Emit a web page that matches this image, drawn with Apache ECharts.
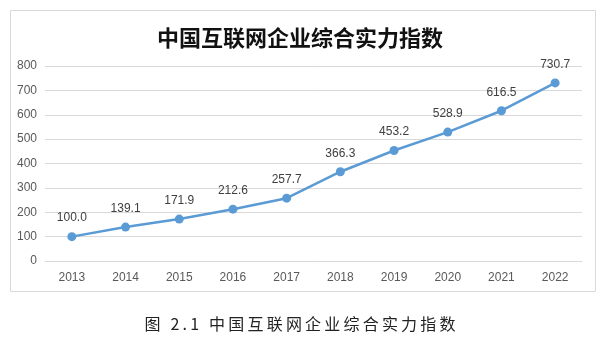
<!DOCTYPE html>
<html><head><meta charset="utf-8">
<script src="https://cdn.jsdelivr.net/npm/echarts@6/dist/echarts.min.js"></script>
<style>html,body{margin:0;padding:0;background:#fff}#c{width:600px;height:343px}</style>
</head><body><div id="c"></div>
<script>
const years = ['2013','2014','2015','2016','2017','2018','2019','2020','2021','2022'];
const values = [100.0, 139.1, 171.9, 212.6, 257.7, 366.3, 453.2, 528.9, 616.5, 730.7];
const titleText = '中国互联网企业综合实力指数';
const captionText = '图 2.1 中国互联网企业综合实力指数';

const spaced = s => Array.from(s).join('\u2009');

const chart = echarts.init(document.getElementById('c'));
chart.setOption({
  animation: false,
  backgroundColor: '#fff',
  title: {
    text: titleText, left: 'center', top: 22,
    textStyle: {fontFamily: 'Noto Sans CJK SC', fontSize: 22, fontWeight: 'bold', color: '#111'}
  },
  grid: {left: 45, right: 18, top: 66, bottom: 82},
  xAxis: {
    type: 'category', data: years, boundaryGap: true,
    axisLine: {show: true, lineStyle: {color: '#d9d9d9'}},
    axisTick: {show: false},
    axisLabel: {color: '#595959', fontSize: 12, margin: 11, fontFamily: 'Liberation Sans'}
  },
  yAxis: {
    type: 'value', min: 0, max: 800, interval: 100,
    axisLine: {show: false}, axisTick: {show: false},
    axisLabel: {color: '#595959', fontSize: 12, margin: 8, fontFamily: 'Liberation Sans'},
    splitLine: {lineStyle: {color: '#d9d9d9', width: 1}}
  },
  series: [{
    type: 'line', data: values,
    lineStyle: {color: '#5B9BD5', width: 2.5},
    itemStyle: {color: '#5B9BD5'},
    symbol: 'circle', symbolSize: 9,
    label: {show: true, position: 'top', distance: 8, color: '#404040', fontSize: 12,
      fontFamily: 'Liberation Sans',
      formatter: p => p.value.toFixed(1)}
  }],
  graphic: [
    {type: 'rect', shape: {x: 10.5, y: 10.5, width: 585, height: 281}, style: {fill: 'none', stroke: '#d9d9d9', lineWidth: 1}, z: -1},
    {type: 'text', left: 'center', top: 316, style: {text: spaced(captionText), fontFamily: 'Noto Sans CJK SC', fontSize: 16, fill: '#222'}}
  ]
});
</script></body></html>
